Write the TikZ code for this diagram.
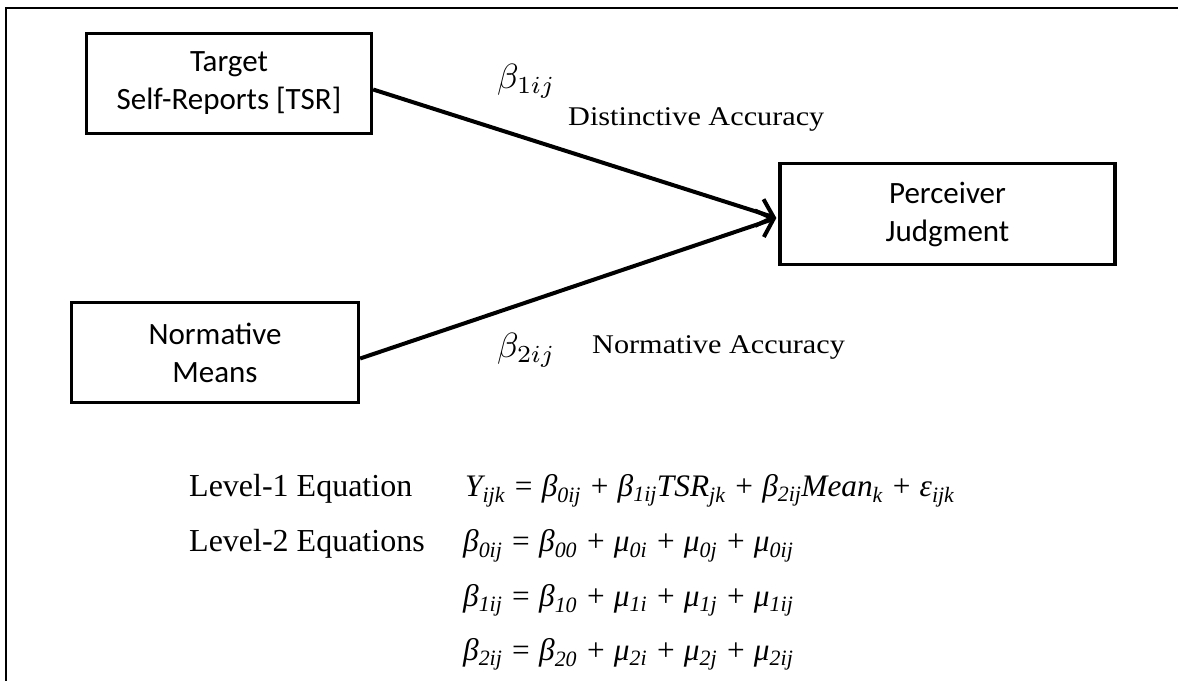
\documentclass[tikz,border=0pt]{standalone}
\usepackage{fontspec}
\setmainfont{Liberation Serif}
\newfontfamily\boxfont{Carlito}
\usetikzlibrary{arrows.meta}
\newcommand{\sbi}[1]{\textsubscript{\itshape #1}}
\tikzset{
  frameline/.style={line width=2.4pt},
  boxnode/.style={draw, line width=3.3pt, inner sep=0pt, align=center,
    font=\boxfont\fontsize{31}{38}\selectfont},
  arr/.style={line width=4pt, -{Straight Barb[length=15pt,width=28pt]}},
  betalab/.style={anchor=base west, inner sep=0pt},
  acclab/.style={anchor=base west, inner sep=0pt, font=\fontsize{27}{30}\selectfont},
  eqlab/.style={anchor=base west, inner sep=0pt, font=\fontsize{32}{36}\selectfont},
  eqn/.style={anchor=base west, inner sep=0pt, font=\fontsize{31.3}{36}\selectfont\itshape}
}
\begin{document}
\begin{tikzpicture}[x=1pt,y=-1pt]
\useasboundingbox (0,0) rectangle (1178,681);
\draw[frameline] (1178,7.8) -- (5.8,7.8) -- (5.8,681);

\node[boxnode, minimum width=285pt, minimum height=100pt] (tsr) at (229,83.5) {Target\\Self-Reports [TSR]};
\node[boxnode, minimum width=335pt, minimum height=101pt] (pj) at (947.5,214) {Perceiver\\Judgment};
\node[boxnode, minimum width=287pt, minimum height=100pt] (norm) at (215,352.5) {Normative\\Means};

\coordinate (tip) at ([shift={(-2pt,-4pt)}]pj.west);
\draw[arr] ([yshift=-6pt]tsr.east) -- (tip);
\draw[arr] ([yshift=-6pt]norm.east) -- (tip);

\node[betalab] (b1) at (497,88) {\scalebox{3.5}{$\beta_{1ij}$}};
\node[acclab] (d1) at (568,125) {\scalebox{1.12}[1]{Distinctive Accuracy}};
\node[betalab] (b2) at (497,357) {\scalebox{3.5}{$\beta_{2ij}$}};
\node[acclab] (d2) at (592,353) {\scalebox{1.12}[1]{Normative Accuracy}};

\node[eqlab] (l1) at (189,496) {Level-1 Equation};
\node[eqlab] (l2) at (189,551) {Level-2 Equations};
\node[eqn] (e1) at (465,496) {Y\sbi{ijk} = β\sbi{0ij} + β\sbi{1ij}TSR\sbi{jk} + β\sbi{2ij}Mean\sbi{k} + ε\sbi{ijk}};
\node[eqn] (e2) at (463,551) {β\sbi{0ij} = β\sbi{00} + μ\sbi{0i} + μ\sbi{0j} + μ\sbi{0ij}};
\node[eqn] (e3) at (463,606) {β\sbi{1ij} = β\sbi{10} + μ\sbi{1i} + μ\sbi{1j} + μ\sbi{1ij}};
\node[eqn] (e4) at (463,660) {β\sbi{2ij} = β\sbi{20} + μ\sbi{2i} + μ\sbi{2j} + μ\sbi{2ij}};
\end{tikzpicture}
\end{document}
